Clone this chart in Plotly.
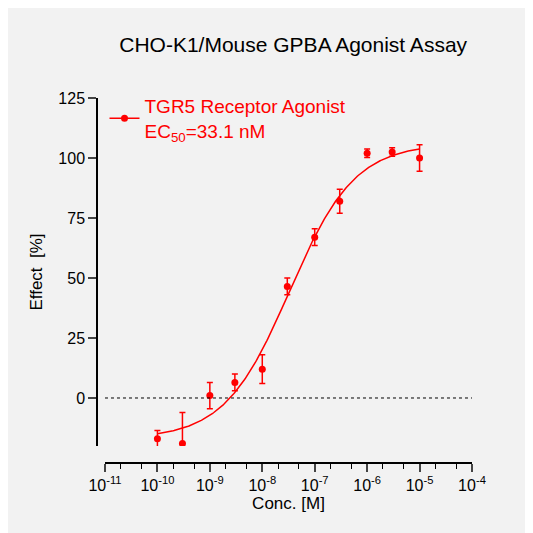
import numpy as np
import plotly.graph_objects as go

conc = [1e-10, 3e-10, 1e-9, 3e-9, 1e-8, 3e-8, 1e-7, 3e-7, 1e-6, 3e-6, 1e-5]
effect = [-17, -19, 1, 6.5, 12, 46.5, 67, 82, 102, 102.5, 100]
err = [3.5, 13, 5.5, 3.5, 6, 3.5, 3.5, 5, 1.8, 1.8, 5.5]
bottom, top, ec50, hill = -17, 106, 33.1e-9, 0.7
xtick_vals = [10.0**k for k in range(-11, -3)]
xtick_text = [f"10<sup>{k}</sup>" for k in range(-11, -3)]
ytick_vals = [0, 25, 50, 75, 100, 125]

red = "#ff0000"
xc = np.logspace(-10, -5, 300)
yc = bottom + (top - bottom) / (1 + (ec50 / xc) ** hill)

fig = go.Figure()
fig.add_trace(go.Scatter(x=xc, y=yc, mode="lines", line=dict(color=red, width=1.5), showlegend=False))
fig.add_trace(go.Scatter(x=conc, y=effect, mode="markers", marker=dict(color=red, size=7),
                         error_y=dict(type="data", array=err, color=red, thickness=1.5, width=3),
                         showlegend=False))
fig.add_trace(go.Scatter(x=[None], y=[None], mode="lines+markers",
                         line=dict(color=red, width=1.5), marker=dict(color=red, size=7),
                         name="TGR5 Receptor Agonist<br>EC<sub>50</sub>=33.1 nM"))
fig.add_shape(type="line", xref="x", yref="y", x0=1e-11, x1=1e-4, y0=0, y1=0,
              line=dict(color="black", width=1, dash="dot"))

fig.update_layout(
    width=533, height=533, paper_bgcolor="#f2f2f2", plot_bgcolor="#f2f2f2",
    margin=dict(l=89, r=69, t=90, b=78),
    font=dict(family="Liberation Sans, Arial", size=16, color="black"),
    title=dict(text="CHO-K1/Mouse GPBA Agonist Assay", x=0.535, xanchor="center", y=0.945,
               font=dict(size=21)),
    legend=dict(x=0.02, y=1.03, xanchor="left", yanchor="top", bgcolor="rgba(0,0,0,0)",
                font=dict(color=red, size=19)),
    xaxis=dict(type="log", domain=[0.0213, 1], anchor="free", position=0,
               range=[-11, -4], tickvals=xtick_vals, ticktext=xtick_text,
               showline=True, linecolor="black", linewidth=1.5, ticks="outside", ticklen=8,
               tickwidth=1.5, showgrid=False, zeroline=False, tickfont=dict(size=16),
               minor=dict(ticks="outside", ticklen=5, tickwidth=1, tickcolor="black", showgrid=False),
               title=dict(text="Conc. [M]", font=dict(size=17), standoff=2)),
    yaxis=dict(domain=[0.0466, 1], anchor="free", position=0, range=[-20, 125],
               tickvals=ytick_vals, showline=True, linecolor="black", linewidth=1.5,
               ticks="outside", ticklen=8, tickwidth=1.5, showgrid=False, zeroline=False,
               tickfont=dict(size=16),
               title=dict(text="Effect  [%]", font=dict(size=17), standoff=10)),
)
fig.write_html("out.html")
